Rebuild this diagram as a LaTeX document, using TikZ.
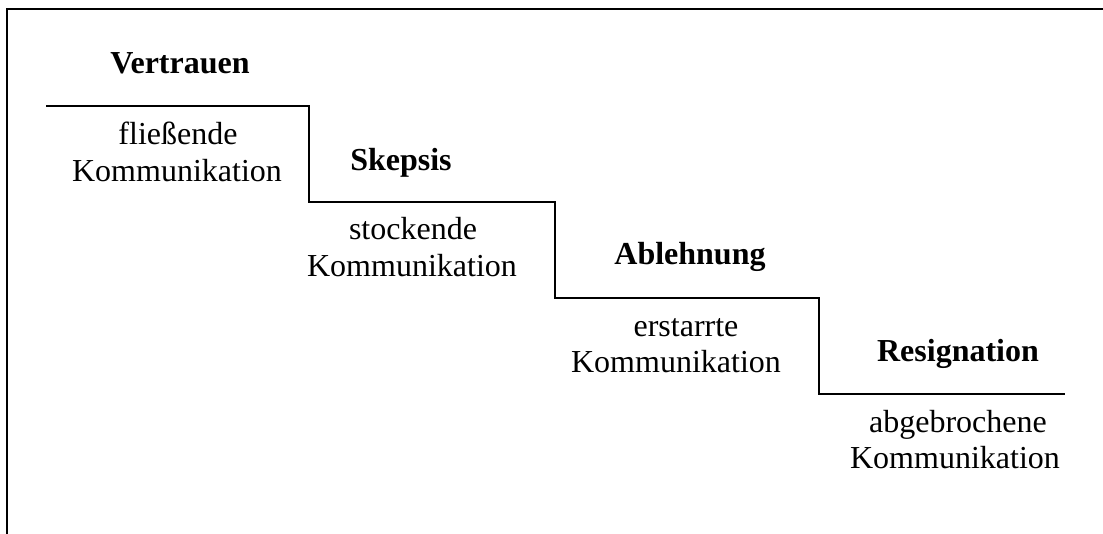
\documentclass[tikz,border=0pt]{standalone}
\usepackage{fontspec}
\setmainfont{Liberation Serif}
\begin{document}
\begin{tikzpicture}[x=1pt,y=-1pt,
  frameline/.style={line width=2pt,line cap=rect},
  stairline/.style={line width=2pt,line join=miter},
  title/.style={font=\fontsize{32}{37}\selectfont\bfseries,anchor=base,inner sep=0pt},
  desc/.style={font=\fontsize{32}{37}\selectfont,anchor=base,inner sep=0pt}]
\useasboundingbox (0,0) rectangle (1103,534);
% open frame: top and left edges
\coordinate (ftr) at (1110,9);
\coordinate (ftl) at (7,9);
\coordinate (fbl) at (7,540);
\draw[frameline] (ftr) -- (ftl) -- (fbl);
% staircase
\coordinate (s0) at (46,106);
\coordinate (s1) at (309,106);
\coordinate (s2) at (309,202);
\coordinate (s3) at (555,202);
\coordinate (s4) at (555,298);
\coordinate (s5) at (819,298);
\coordinate (s6) at (819,394);
\coordinate (s7) at (1065,394);
\draw[stairline] (s0) -- (s1) -- (s2) -- (s3) -- (s4) -- (s5) -- (s6) -- (s7);
% step 1
\node[title] (t1) at (180,74) {Vertrauen};
\node[desc] (d1a) at (178,145) {fließende};
\node[desc] (d1b) at (177,182) {Kommunikation};
% step 2
\node[title] (t2) at (401,171) {Skepsis};
\node[desc] (d2a) at (413,240) {stockende};
\node[desc] (d2b) at (412,277) {Kommunikation};
% step 3
\node[title] (t3) at (690,265) {Ablehnung};
\node[desc] (d3a) at (686,337) {erstarrte};
\node[desc] (d3b) at (676,373) {Kommunikation};
% step 4
\node[title] (t4) at (958,362) {Resignation};
\node[desc] (d4a) at (958,432) {abgebrochene};
\node[desc] (d4b) at (955,468) {Kommunikation};
\end{tikzpicture}
\end{document}
